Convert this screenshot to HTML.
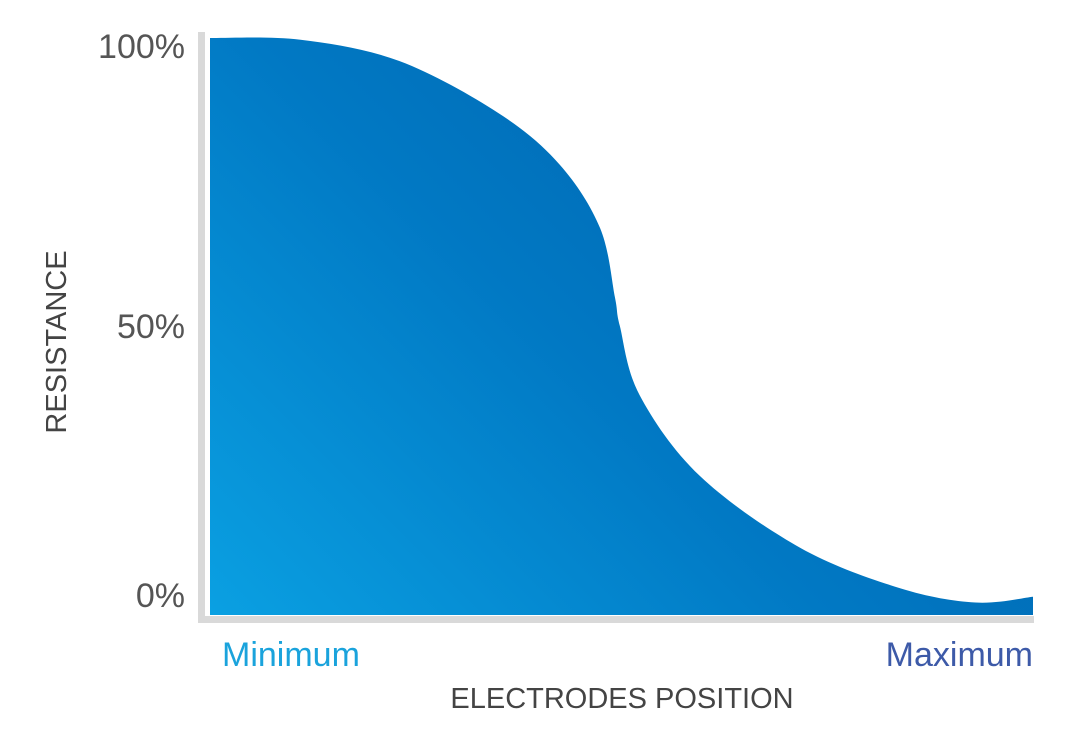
<!DOCTYPE html>
<html><head><meta charset="utf-8"><style>
body{margin:0;background:#fff;}
svg{display:block;font-family:"Liberation Sans",sans-serif;}
</style></head><body>
<svg id="chart" width="1066" height="735">
<defs>
<linearGradient id="g" x1="0" y1="1" x2="1" y2="0.3">
<stop offset="0" stop-color="#0aa0e2"/>
<stop offset="0.5" stop-color="#0179c4"/>
<stop offset="1" stop-color="#0062ac"/>
</linearGradient>
</defs>
<rect x="198" y="32" width="7" height="591" fill="#d9d9d9"/>
<rect x="198" y="616" width="836" height="7" fill="#d9d9d9"/>
<g id="ticks"></g>
<path id="area" fill="url(#g)"/>
<text x="222" y="666" font-size="34" fill="#1aa3dc">Minimum</text>
<text x="1033" y="666" font-size="34" fill="#3d5aa8" text-anchor="end">Maximum</text>
<text x="622" y="708" font-size="29" fill="#444" text-anchor="middle">ELECTRODES POSITION</text>
<text transform="translate(66,342) rotate(-90)" font-size="29" fill="#444" text-anchor="middle">RESISTANCE</text>
</svg>
<script>
const positions=[0,11,23,35,42.5,47.4,49.2,49.8,52.2,59.5,71.7,83.8,93,100];
const resistance=[100,99.7,96,87,78,67,55,50,38,24,11.5,4.5,2,3];
const tickValues=[0,50,100];
const tickLabels=["0%","50%","100%"];
const sx=v=>210+v/100*823;
const sy=v=>614-v/100*576;
const pts=positions.map((p,i)=>[sx(p),sy(resistance[i])]);
let d=`M${sx(0)},${sy(0)+1} L${pts[0][0]},${pts[0][1]}`;
for(let i=0;i<pts.length-1;i++){
 const p0=pts[Math.max(0,i-1)],p1=pts[i],p2=pts[i+1],p3=pts[Math.min(pts.length-1,i+2)];
 const c1=[p1[0]+(p2[0]-p0[0])/6,p1[1]+(p2[1]-p0[1])/6];
 const c2=[p2[0]-(p3[0]-p1[0])/6,p2[1]-(p3[1]-p1[1])/6];
 d+=` C${c1[0]},${c1[1]} ${c2[0]},${c2[1]} ${p2[0]},${p2[1]}`;
}
d+=` L${sx(100)},${sy(0)+1} Z`;
document.getElementById('area').setAttribute('d',d);
const g=document.getElementById('ticks');
tickValues.forEach((v,i)=>{
 const t=document.createElementNS('http://www.w3.org/2000/svg','text');
 
 
 t.setAttribute('x',185);t.setAttribute('y',sy(v)+ (v===0?-7:v===100?20:12));
 t.setAttribute('text-anchor','end');t.setAttribute('font-size','34');t.setAttribute('fill','#555');
 t.textContent=tickLabels[i];g.appendChild(t);
});
</script>
</body></html>
